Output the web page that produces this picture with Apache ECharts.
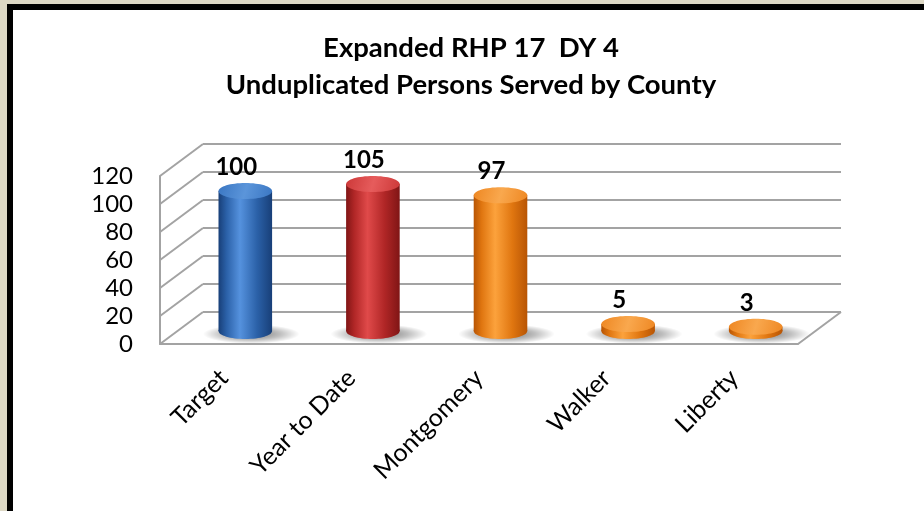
<!DOCTYPE html>
<html>
<head>
<meta charset="utf-8">
<title>Unduplicated Persons Served by County</title>
<script src="https://cdn.jsdelivr.net/npm/echarts@6/dist/echarts.min.js"></script>
<style>
  html, body { margin: 0; padding: 0; background: #ddd8c5; }
  .frame {
    position: absolute;
    left: 7px; top: 4px; right: 0; bottom: 0;
    border-top: 6px solid #000;
    border-left: 6px solid #000;
    background: #fff;
  }
  #chart { position: absolute; left: 0; top: 0; width: 924px; height: 511px; }
</style>
</head>
<body>
<div class="frame"></div>
<div id="chart"></div>
<script>
const titleLines = ['Expanded RHP 17  DY 4', 'Unduplicated Persons Served by County']
const categories = ['Target', 'Year to Date', 'Montgomery', 'Walker', 'Liberty']
const values = [100, 105, 97, 5, 3]
const yTicks = [0, 20, 40, 60, 80, 100, 120]

// front plane of the 3d box; back wall sits DX right / DY up, bars halfway
const FRONT = { left: 160, top: 176, width: 638, height: 168 }
const DX = 43
const DY = 32
const LINE = '#a3a3a3'

const blue = { dark: '#183f78', mid: '#2b61a8', light: '#5592de', cap: '#3a76c2', capLight: '#5b95da' }
const red = { dark: '#801515', mid: '#b02626', light: '#e04a4a', cap: '#cc3838', capLight: '#e65c5c' }
const orange = { dark: '#b85504', mid: '#e07610', light: '#fca23c', cap: '#ee8722', capLight: '#f9a84e' }
const palette = [blue, red, orange, orange, orange]

const font = 'Lato, "Open Sans", sans-serif'

function gridAt (dx, dy) {
  return {
    left: FRONT.left + dx,
    top: FRONT.top + dy,
    width: FRONT.width,
    height: FRONT.height,
    containLabel: false
  }
}

function hiddenCat (gridIndex) {
  return {
    type: 'category', gridIndex, data: categories,
    axisLine: { show: false }, axisTick: { show: false }, axisLabel: { show: false }
  }
}

function valueAxis (gridIndex, extra) {
  return Object.assign({
    type: 'value', gridIndex, min: 0, max: 120, interval: 20,
    axisLine: { show: false }, axisTick: { show: false }, axisLabel: { show: false },
    splitLine: { show: false }
  }, extra)
}

function renderCylinder (params, api) {
  const i = api.value(0)
  const v = api.value(1)
  const base = api.coord([i, 0])
  const top = api.coord([i, v])
  const rx = api.size([1, 0])[0] * 0.21
  const ry = rx * 0.3
  const cx = base[0]
  const c = palette[i]
  const body = () => new echarts.graphic.LinearGradient(0, 0, 1, 0, [
    { offset: 0, color: c.dark },
    { offset: 0.15, color: c.mid },
    { offset: 0.4, color: c.light },
    { offset: 0.72, color: c.mid },
    { offset: 1, color: c.dark }
  ])
  const cap = new echarts.graphic.LinearGradient(0, 0, 1, 1, [
    { offset: 0, color: c.cap },
    { offset: 0.5, color: c.capLight },
    { offset: 1, color: c.cap }
  ])
  const sx = cx + 6
  const sy = base[1] + 3
  return {
    type: 'group',
    children: [
      {
        type: 'circle',
        shape: { cx: sx, cy: sy, r: rx * 1.8 },
        originX: sx, originY: sy, scaleY: 0.2,
        style: {
          fill: new echarts.graphic.RadialGradient(0.5, 0.5, 0.5, [
            { offset: 0, color: 'rgba(0,0,0,0.55)' },
            { offset: 0.6, color: 'rgba(0,0,0,0.25)' },
            { offset: 1, color: 'rgba(0,0,0,0)' }
          ])
        }
      },
      { type: 'ellipse', shape: { cx, cy: base[1], rx, ry }, style: { fill: body() } },
      { type: 'rect', shape: { x: cx - rx, y: top[1], width: rx * 2, height: base[1] - top[1] }, style: { fill: body() } },
      { type: 'ellipse', shape: { cx, cy: top[1], rx, ry }, style: { fill: cap } },
      {
        type: 'text',
        x: cx - 9,
        y: top[1] - 24,
        style: {
          text: String(v), align: 'center', verticalAlign: 'middle',
          font: 'bold 24px ' + font, fill: '#000'
        }
      }
    ]
  }
}

// slanted lines on the side wall, one per y tick
function renderSideLine (params, api) {
  const y = api.coord([0, api.value(1)])[1]
  const x = params.coordSys.x
  return {
    type: 'line',
    shape: { x1: x, y1: y, x2: x + DX, y2: y - DY },
    style: { stroke: LINE, lineWidth: 2 }
  }
}

function renderFloorEdge (params, api) {
  const y = api.coord([api.value(0), 0])[1]
  const x = params.coordSys.x + params.coordSys.width
  return {
    type: 'line',
    shape: { x1: x, y1: y, x2: x + DX, y2: y - DY },
    style: { stroke: LINE, lineWidth: 2 }
  }
}

const chart = echarts.init(document.getElementById('chart'), null, { renderer: 'canvas' })
chart.setOption({
  animation: false,
  title: {
    text: titleLines.join('\n'),
    left: 466,
    top: 25,
    textAlign: 'center',
    textStyle: { fontFamily: font, fontWeight: 'bold', fontSize: 27.5, lineHeight: 37, color: '#000' }
  },
  grid: [gridAt(DX, -DY), gridAt(0, 0), gridAt(DX / 2, -DY / 2 + 3)],
  xAxis: [
    hiddenCat(0),
    {
      type: 'category', gridIndex: 1, data: categories,
      axisLine: { show: true, lineStyle: { color: LINE, width: 2 } },
      axisTick: { show: false },
      axisLabel: { interval: 0, rotate: 45, margin: 30, fontFamily: font, fontSize: 25, color: '#000' }
    },
    hiddenCat(2)
  ],
  yAxis: [
    valueAxis(0, { splitLine: { show: true, lineStyle: { color: LINE, width: 2 } } }),
    valueAxis(1, {
      axisLine: { show: true, lineStyle: { color: LINE, width: 2 } },
      axisLabel: { show: true, margin: 27, fontFamily: font, fontSize: 24, color: '#000' }
    }),
    valueAxis(2)
  ],
  series: [
    {
      type: 'custom', xAxisIndex: 1, yAxisIndex: 1,
      data: yTicks.map(v => [0, v]),
      renderItem: renderSideLine
    },
    {
      type: 'custom', xAxisIndex: 1, yAxisIndex: 1,
      data: [[categories.length - 1, 0]],
      renderItem: renderFloorEdge
    },
    {
      type: 'custom', xAxisIndex: 2, yAxisIndex: 2,
      data: values.map((v, i) => [i, v]),
      renderItem: renderCylinder
    }
  ]
})
</script>
</body>
</html>
